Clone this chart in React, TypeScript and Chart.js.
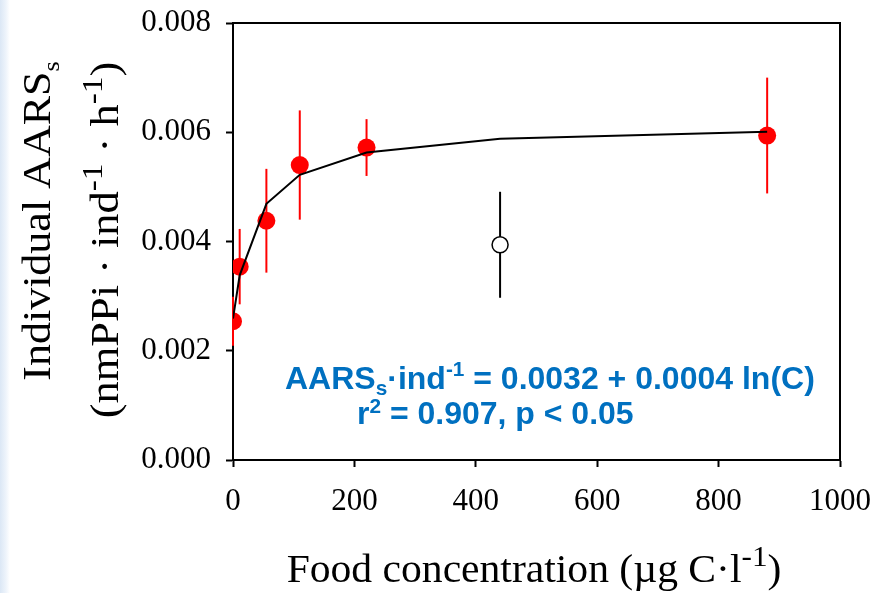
import React, { useEffect, useRef } from "react";
import { Chart, registerables } from "chart.js";

Chart.register(...registerables);

// ---- data ----
const concentrations = [0, 11, 55, 110, 220, 880];
const rates = [0.00254, 0.00354, 0.00438, 0.0054, 0.00572, 0.00594];
const rateErrors = [0.00045, 0.00069, 0.00095, 0.001, 0.00052, 0.00106];

const excludedConc = [440];
const excludedRate = [0.00394];
const excludedError = [0.00097];

const fitConc = [0, 11, 55, 110, 220, 440, 880];
const fitRate = [0.00259, 0.00338, 0.00469, 0.00522, 0.00563, 0.00588, 0.00601];

const xTicks = [0, 200, 400, 600, 800, 1000];
const yTicks = [0, 0.002, 0.004, 0.006, 0.008];

type Seg = { t: string; s?: "sup" | "sub" };

const yTitle1: Seg[] = [{ t: "Individual AARS" }, { t: "s", s: "sub" }];
const yTitle2: Seg[] = [
  { t: "(nmPPi · ind" },
  { t: "-1", s: "sup" },
  { t: " · h" },
  { t: "-1", s: "sup" },
  { t: ")" },
];
const xTitle: Seg[] = [{ t: "Food concentration (µg C·l" }, { t: "-1", s: "sup" }, { t: ")" }];
const eqLine1: Seg[] = [
  { t: "AARS" },
  { t: "s", s: "sub" },
  { t: "·ind" },
  { t: "-1", s: "sup" },
  { t: " = 0.0032 + 0.0004 ln(C)" },
];
const eqLine2: Seg[] = [{ t: "r" }, { t: "2", s: "sup" }, { t: " = 0.907, p < 0.05" }];

const SERIF = "'Liberation Serif', 'Times New Roman', serif";
const SANS = "'Liberation Sans', Arial, sans-serif";

function drawRich(
  ctx: CanvasRenderingContext2D,
  segs: Seg[],
  x: number,
  y: number,
  opts: {
    size: number;
    family: string;
    weight?: string;
    color: string;
    align: "left" | "center";
    rotate?: boolean;
    stretch?: number;
    supScale?: number;
    subScale?: number;
    supRise?: number;
    subDrop?: number;
  }
) {
  const { size, family, weight = "normal", color, align, rotate } = opts;
  const supScale = opts.supScale ?? 0.65;
  const subScale = opts.subScale ?? 0.65;
  const supRise = opts.supRise ?? 0.4;
  const subDrop = opts.subDrop ?? 0.22;
  const stretch = opts.stretch ?? 1;
  ctx.save();
  ctx.fillStyle = color;
  ctx.textBaseline = "alphabetic";
  ctx.textAlign = "left";
  const fontFor = (s?: string) => {
    const sz = s === "sup" ? size * supScale : s === "sub" ? size * subScale : size;
    return `${weight} ${sz}px ${family}`;
  };
  let total = 0;
  const widths = segs.map((sg) => {
    ctx.font = fontFor(sg.s);
    const w = ctx.measureText(sg.t).width;
    total += w;
    return w;
  });
  ctx.translate(x, y);
  if (rotate) ctx.rotate(-Math.PI / 2);
  ctx.scale(stretch, 1);
  let cx = align === "center" ? -total / 2 : 0;
  segs.forEach((sg, i) => {
    ctx.font = fontFor(sg.s);
    const dy = sg.s === "sup" ? -size * supRise : sg.s === "sub" ? size * subDrop : 0;
    ctx.fillText(sg.t, cx, dy);
    cx += widths[i];
  });
  ctx.restore();
}

const errorBarsPlugin = {
  id: "errorBars",
  beforeDatasetsDraw(chart: any) {
    const ctx: CanvasRenderingContext2D = chart.ctx;
    const xs = chart.scales.x;
    const ys = chart.scales.y;
    const bars = (cs: number[], vs: number[], es: number[], color: string) => {
      ctx.save();
      ctx.strokeStyle = color;
      ctx.lineWidth = 2;
      cs.forEach((c, i) => {
        const px = xs.getPixelForValue(c);
        ctx.beginPath();
        ctx.moveTo(px, ys.getPixelForValue(vs[i] + es[i]));
        ctx.lineTo(px, ys.getPixelForValue(vs[i] - es[i]));
        ctx.stroke();
      });
      ctx.restore();
    };
    bars(excludedConc, excludedRate, excludedError, "#000000");
    bars(concentrations, rates, rateErrors, "#ff0000");
  },
};

const framePlugin = {
  id: "frameAndText",
  afterDraw(chart: any) {
    const ctx: CanvasRenderingContext2D = chart.ctx;
    const a = chart.chartArea;
    ctx.save();
    ctx.strokeStyle = "#000";
    ctx.lineWidth = 2;
    ctx.beginPath();
    ctx.moveTo(a.left - 1, a.top);
    ctx.lineTo(a.right, a.top);
    ctx.lineTo(a.right, a.bottom);
    ctx.stroke();
    ctx.restore();

    drawRich(ctx, yTitle1, 50, 221, { size: 40, family: SERIF, color: "#000", align: "center", rotate: true, stretch: 1.1, subScale: 0.6 });
    drawRich(ctx, yTitle2, 118, 240, { size: 40, family: SERIF, color: "#000", align: "center", rotate: true, stretch: 1.11, supScale: 0.75 });
    drawRich(ctx, xTitle, 534, 582, { size: 40, family: SERIF, color: "#000", align: "center", stretch: 1.04, supScale: 0.75 });
    drawRich(ctx, eqLine1, 285, 389, { size: 32, family: SANS, weight: "bold", color: "#0070C0", align: "left", subDrop: 0.2 });
    drawRich(ctx, eqLine2, 357, 424, { size: 32, family: SANS, weight: "bold", color: "#0070C0", align: "left", supRise: 0.34 });
  },
};

export default function App() {
  const ref = useRef<HTMLCanvasElement | null>(null);

  useEffect(() => {
    if (!ref.current) return;
    const chart = new Chart(ref.current, {
      type: "scatter",
      data: {
        datasets: [
          {
            type: "line",
            label: "fit",
            data: fitConc.map((c, i) => ({ x: c, y: fitRate[i] })),
            borderColor: "#000",
            borderWidth: 2,
            pointRadius: 0,
            fill: false,
            tension: 0,
            order: 0,
          },
          {
            label: "AARS",
            data: concentrations.map((c, i) => ({ x: c, y: rates[i] })),
            backgroundColor: "#ff0000",
            borderColor: "#ff0000",
            borderWidth: 0,
            pointRadius: 9,
            order: 1,
          },
          {
            label: "excluded",
            data: excludedConc.map((c, i) => ({ x: c, y: excludedRate[i] })),
            backgroundColor: "#ffffff",
            borderColor: "#000000",
            borderWidth: 1.5,
            pointRadius: 8,
            order: 2,
          },
        ] as any,
      },
      options: {
        animation: false,
        responsive: false,
        events: [],
        layout: { padding: { left: 0, top: 23, right: 35, bottom: 0 } },
        plugins: { legend: { display: false }, tooltip: { enabled: false } },
        scales: {
          x: {
            type: "linear",
            min: 0,
            max: 1000,
            afterFit: (s: any) => {
              s.height = 133;
              s.paddingLeft = 0;
              s.paddingRight = 0;
            },
            afterBuildTicks: (s: any) => {
              s.ticks = xTicks.map((v) => ({ value: v }));
            },
            grid: { drawOnChartArea: false, drawTicks: true, tickLength: 7, tickColor: "#000", tickWidth: 2 },
            border: { display: true, color: "#000", width: 2 },
            ticks: {
              color: "#000",
              font: { family: SERIF, size: 31 },
              padding: 16,
              maxRotation: 0,
              autoSkip: false,
              callback: (v: any) => String(v),
            },
          },
          y: {
            type: "linear",
            min: 0,
            max: 0.008,
            afterFit: (s: any) => {
              s.width = 233;
              s.paddingTop = 0;
              s.paddingBottom = 0;
            },
            afterBuildTicks: (s: any) => {
              s.ticks = yTicks.map((v) => ({ value: v }));
            },
            grid: { drawOnChartArea: false, drawTicks: true, tickLength: 7, tickColor: "#000", tickWidth: 2 },
            border: { display: true, color: "#000", width: 2 },
            ticks: {
              color: "#000",
              font: { family: SERIF, size: 31 },
              padding: 15,
              autoSkip: false,
              callback: (v: any) => Number(v).toFixed(3),
            },
          },
        },
      },
      plugins: [errorBarsPlugin, framePlugin],
    } as any);
    return () => chart.destroy();
  }, []);

  return (
    <div style={{ position: "fixed", left: 0, top: 0, width: 875, height: 593, background: "#ffffff" }}>
      <div
        style={{
          position: "absolute",
          left: 0,
          top: 0,
          width: 10,
          height: 593,
          background: "linear-gradient(to right, #dbe7f5, #eef4fb 60%, #ffffff)",
        }}
      />
      <canvas ref={ref} width={875} height={593} style={{ position: "absolute", left: 0, top: 0 }} />
    </div>
  );
}
